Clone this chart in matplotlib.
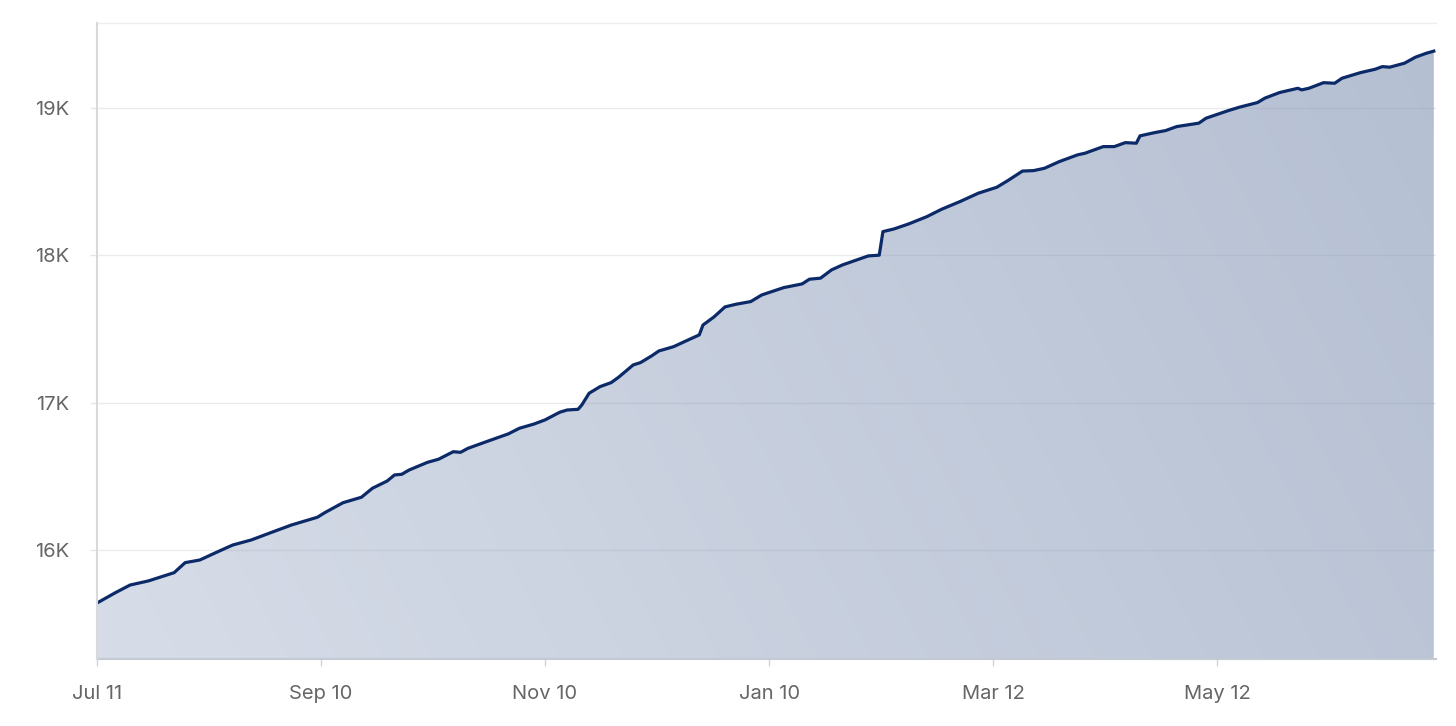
import matplotlib.pyplot as plt
from matplotlib.patches import PathPatch
from matplotlib.path import Path
import numpy as np
import pandas as pd

# days since start, follower count
START = pd.Timestamp("2022-07-11")
day_offsets = [
    0, 5, 9, 14, 21, 24, 28, 32, 35, 37, 42, 48, 53, 60, 62, 67, 72, 75, 79, 81,
    83, 85, 90, 93, 97, 99, 101, 106, 112, 115, 119, 122, 126, 128, 131, 132, 134,
    137, 140, 142, 146, 148, 151, 153, 157, 161, 164, 165, 168, 171, 174, 178, 181,
    187, 192, 194, 197, 200, 203, 210, 213, 214, 217, 221, 226, 230, 235, 240, 245,
    248, 252, 255, 258, 262, 267, 269, 274, 277, 280, 283, 284, 288, 291, 294, 300,
    302, 308, 311, 316, 318, 322, 327, 328, 330, 334, 337, 339, 344, 348, 350, 352,
    356, 359, 362, 364,
]
followers = [
    15640, 15710, 15762, 15790, 15846, 15914, 15932, 15978, 16012, 16034, 16068,
    16124, 16170, 16222, 16253, 16321, 16358, 16419, 16468, 16509, 16514, 16543,
    16595, 16616, 16667, 16663, 16690, 16735, 16788, 16826, 16855, 16883, 16935,
    16950, 16955, 16984, 17064, 17109, 17136, 17172, 17256, 17272, 17317, 17351,
    17380, 17426, 17460, 17527, 17582, 17650, 17668, 17686, 17731, 17781, 17806,
    17838, 17845, 17901, 17935, 17996, 18001, 18161, 18179, 18213, 18263, 18313,
    18365, 18422, 18462, 18507, 18572, 18575, 18591, 18636, 18682, 18693, 18738,
    18738, 18765, 18761, 18811, 18833, 18847, 18874, 18897, 18931, 18982, 19005,
    19037, 19067, 19105, 19134, 19123, 19134, 19172, 19168, 19202, 19240, 19263,
    19281, 19277, 19304, 19345, 19372, 19386,
]
tick_days = [0, 61, 122, 183, 244, 305]
tick_labels = ["Jul 11", "Sep 10", "Nov 10", "Jan 10", "Mar 12", "May 12"]
y_ticks = [16000, 17000, 18000, 19000]
y_labels = ["16K", "17K", "18K", "19K"]

dates = START + pd.to_timedelta(day_offsets, unit="D")
x = np.array(day_offsets, dtype=float)
y = np.array(followers, dtype=float)

plt.rcParams['font.family'] = ['Inter', 'DejaVu Sans']

fig = plt.figure(figsize=(14.56, 7.26), dpi=100)
ax = fig.add_axes([97/1456, 67/726, (1436-97)/1456, (659-23)/726])

YMIN, YMAX = 15260, 19577
XMAX = 364.6
ax.set_xlim(0, XMAX)
ax.set_ylim(YMIN, YMAX)

# gradient fill clipped to the area under the line
verts = np.vstack([[x[0], YMIN], np.column_stack([x, y]), [x[-1], YMIN]])
clip = PathPatch(Path(verts), facecolor='none', edgecolor='none')
ax.add_patch(clip)
gx, gy = np.meshgrid(np.linspace(0, 1, 300), np.linspace(0, 1, 200))
t = 0.8*gx + 0.2*gy
light = np.array([0.843, 0.866, 0.910])
dark = np.array([0.706, 0.749, 0.824])
img = light[None, None, :]*(1-t[..., None]) + dark[None, None, :]*t[..., None]
im = ax.imshow(img, extent=[0, XMAX, YMIN, YMAX], origin='lower', aspect='auto',
               zorder=1, interpolation='bilinear')
im.set_clip_path(clip)

ax.plot(x, y, color='#0c2a68', lw=2.3, zorder=3, solid_joinstyle='round')

for v in y_ticks:
    ax.axhline(v, color='#8a94a8', lw=1, alpha=0.18, zorder=2)

ax.set_xticks(tick_days)
ax.set_xticklabels(tick_labels)
ax.set_yticks(y_ticks)
ax.set_yticklabels(y_labels)
ax.tick_params(axis='x', length=5, width=1, color='#d0d3d8', pad=14,
               labelsize=14.5, labelcolor='#666666')
ax.tick_params(axis='y', length=5, width=1, color='#e6e6e6', pad=15,
               labelsize=14.5, labelcolor='#666666')

for side in ['right']:
    ax.spines[side].set_visible(False)
ax.spines['top'].set_color('#eeeeee')
ax.spines['top'].set_linewidth(1)
ax.spines['left'].set_color('#d9d9d9')
ax.spines['left'].set_linewidth(1.5)
ax.spines['bottom'].set_color('#c4cad4')
ax.spines['bottom'].set_linewidth(1.5)
ax.spines['left'].set_zorder(4)

fig.savefig('out.png', dpi=100, facecolor='white')
